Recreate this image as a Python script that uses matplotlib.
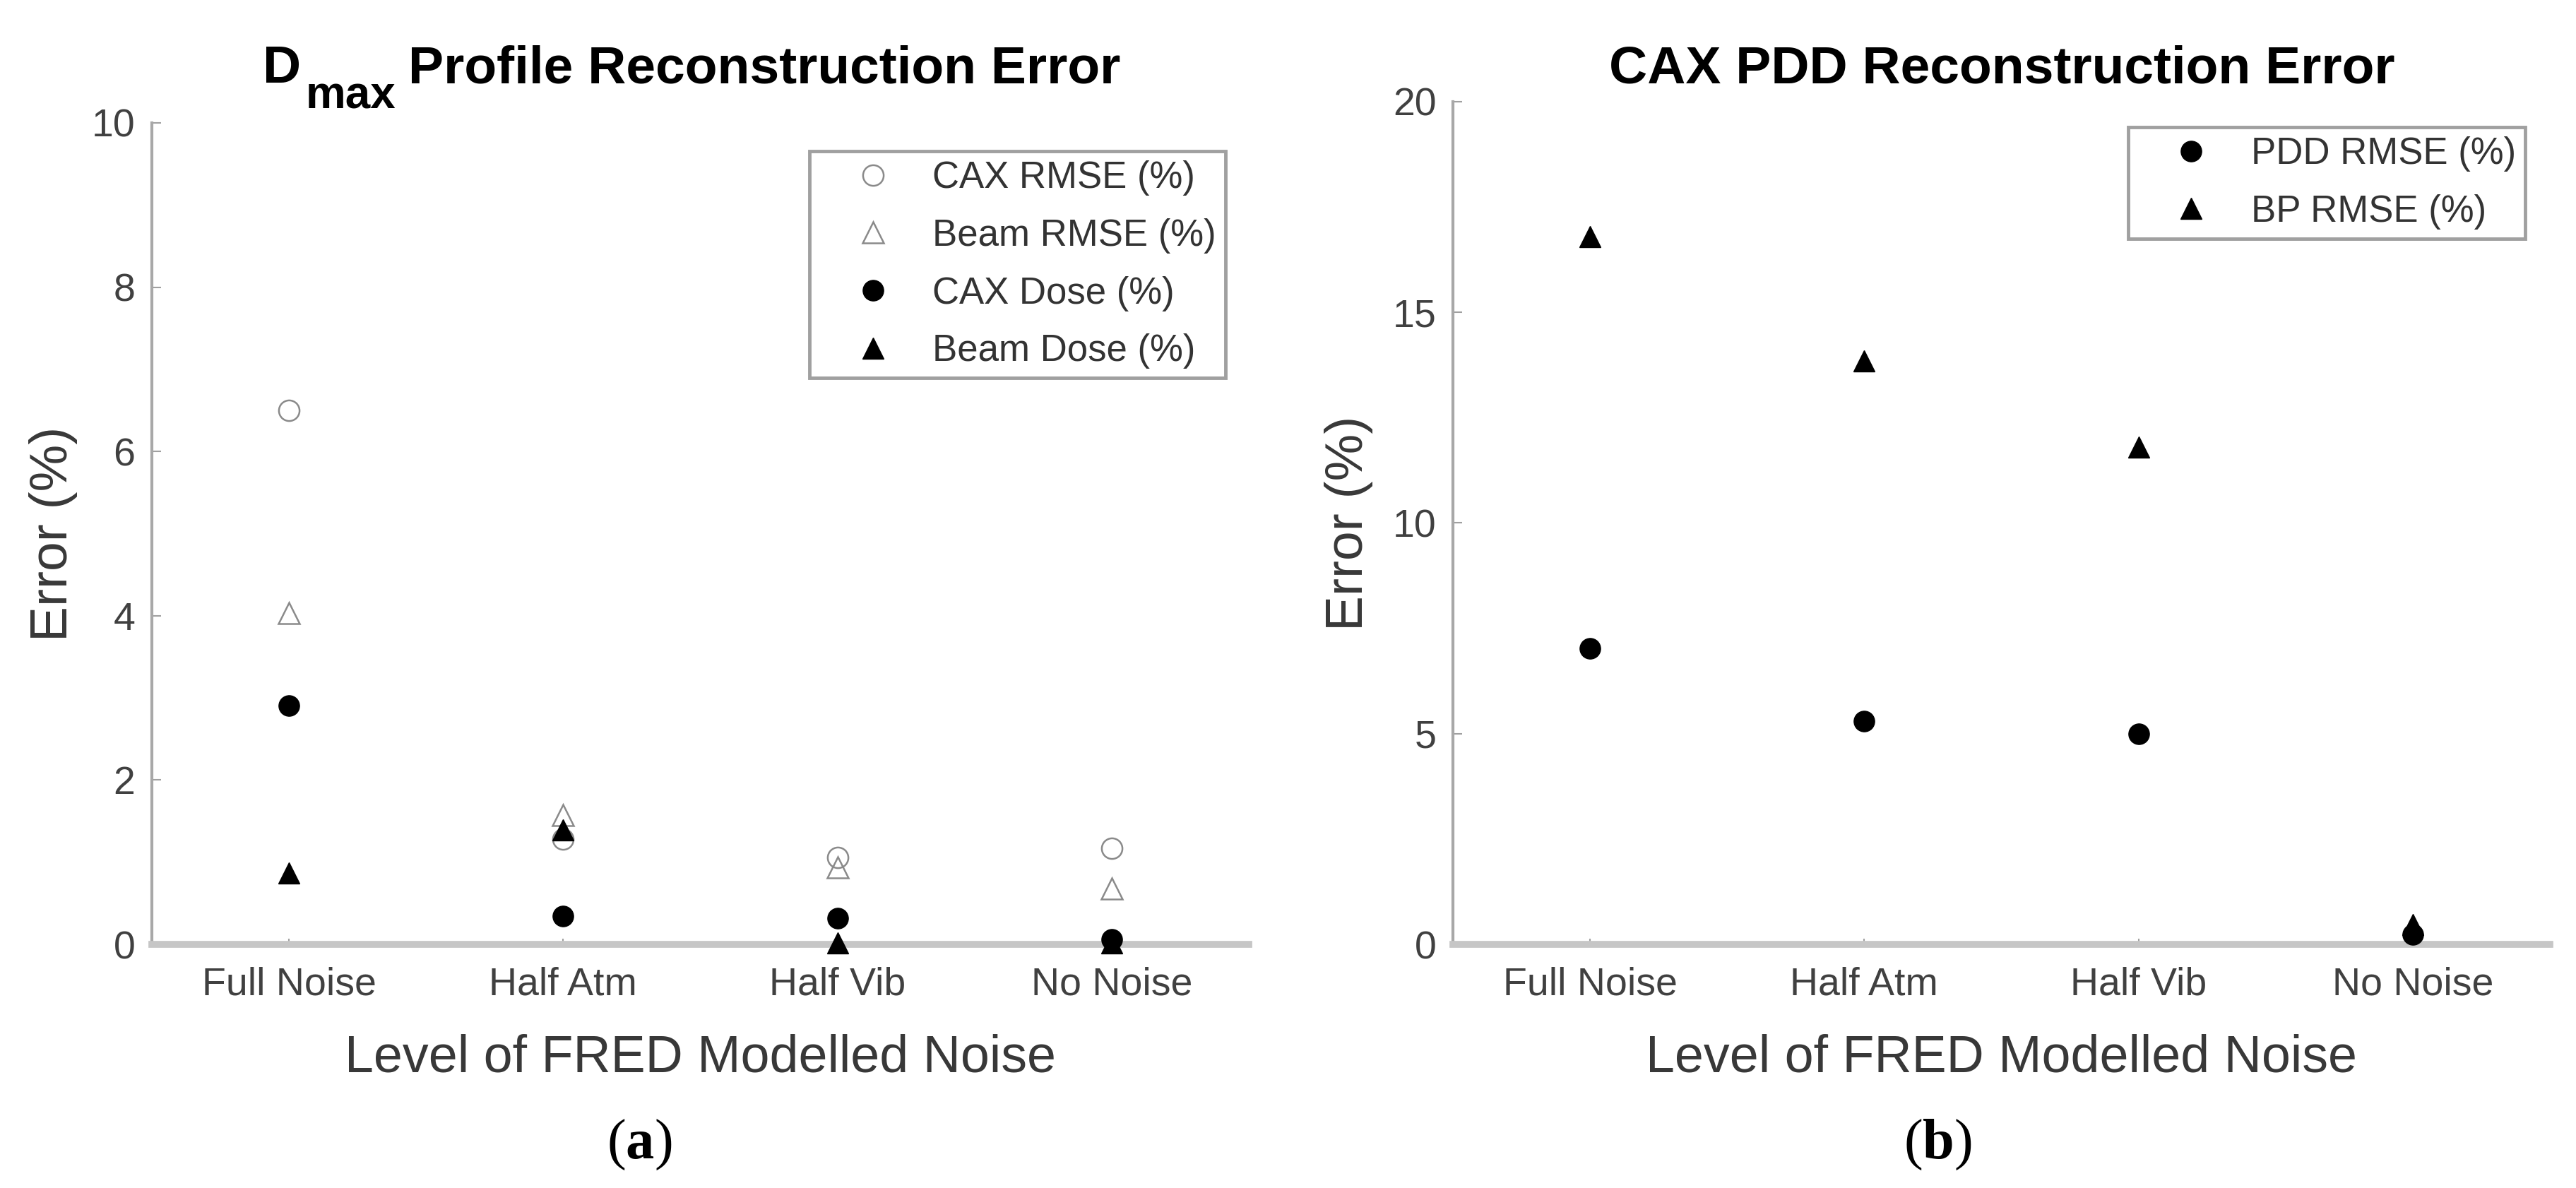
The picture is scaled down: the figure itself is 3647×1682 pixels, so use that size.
import matplotlib
matplotlib.use("Agg")
import matplotlib.pyplot as plt

plt.rcParams['font.family'] = ['Liberation Sans', 'DejaVu Sans']
plt.rcParams['mathtext.fontset'] = 'custom'
plt.rcParams['mathtext.rm'] = 'Liberation Serif'
plt.rcParams['mathtext.bf'] = 'Liberation Serif:bold'

# ---------------- data ----------------
categories = ["Full Noise", "Half Atm", "Half Vib", "No Noise"]

# panel (a): Dmax profile reconstruction error
cax_rmse = [6.5, 1.28, 1.06, 1.17]
beam_rmse = [4.03, 1.57, 0.94, 0.68]
cax_dose = [2.91, 0.34, 0.32, 0.06]
beam_dose = [0.87, 1.39, 0.02, 0.02]

# panel (b): CAX PDD reconstruction error
pdd_rmse = [7.02, 5.3, 4.99, 0.24]
bp_rmse = [16.8, 13.84, 11.81, 0.47]

yticks_a = [0, 2, 4, 6, 8, 10]
yticks_b = [0, 5, 10, 15, 20]

W, H = 3648, 1682
fig = plt.figure(figsize=(W / 100, H / 100), dpi=100)

TICK_COLOR = '#404040'
LABEL_COLOR = '#383838'
TICK_FS = 40
XLABEL_FS = 53
YLABEL_FS = 54
LEG_FS = 38
MS = 21

def frac_x(px):
    return px / W

def frac_y(py):
    return 1 - py / H

ax1 = fig.add_axes([frac_x(215), frac_y(1337), (1768 - 215) / W, (1337 - 174) / H])
ax2 = fig.add_axes([frac_x(2057), frac_y(1337), (3610 - 2057) / W, (1337 - 144) / H])

x = list(range(1, len(categories) + 1))

open_kw = dict(linestyle='none', markersize=MS, markerfacecolor='none',
               markeredgecolor='#8a8a8a', markeredgewidth=1.8, clip_on=False, zorder=3)
fill_kw = dict(linestyle='none', markersize=MS, color='black', clip_on=False, zorder=3)

ax1.plot(x, cax_rmse, marker='o', label='CAX RMSE (%)', **open_kw)
ax1.plot(x, beam_rmse, marker='^', label='Beam RMSE (%)', **open_kw)
ax1.plot(x, cax_dose, marker='o', label='CAX Dose (%)', **fill_kw)
ax1.plot(x, beam_dose, marker='^', label='Beam Dose (%)', **fill_kw)

ax2.plot(x, pdd_rmse, marker='o', label='PDD RMSE (%)', **fill_kw)
ax2.plot(x, bp_rmse, marker='^', label='BP RMSE (%)', **fill_kw)

for ax, yt, in ((ax1, yticks_a), (ax2, yticks_b)):
    ax.set_xlim(0.5, 4.5)
    ax.set_ylim(yt[0], yt[-1])
    ax.set_yticks(yt)
    ax.set_xticks(x)
    ax.set_xticklabels(categories)
    for s in ('top', 'right'):
        ax.spines[s].set_visible(False)
    ax.spines['left'].set_color('#a8a8a8')
    ax.spines['left'].set_linewidth(3.0)
    ax.spines['bottom'].set_color('#c6c6c6')
    ax.spines['bottom'].set_linewidth(7)
    ax.tick_params(axis='x', direction='in', length=6, width=1.5, color='#a0a0a0',
                   labelsize=TICK_FS, labelcolor=TICK_COLOR, pad=23)
    ax.tick_params(axis='y', direction='in', length=9, width=1.5, color='#a0a0a0',
                   labelsize=TICK_FS, labelcolor=TICK_COLOR, pad=17)
    ax.set_xlabel('Level of FRED Modelled Noise', fontsize=XLABEL_FS, color=LABEL_COLOR)
    ax.xaxis.label.set_verticalalignment('baseline')
    ax.set_ylabel('Error (%)', fontsize=YLABEL_FS, color=LABEL_COLOR)
    ax.yaxis.label.set_verticalalignment('center')
    ax.set_facecolor('white')

ax1.xaxis.set_label_coords(0.5, (1337 - 1517) / (1337 - 174))
ax2.xaxis.set_label_coords(0.5, (1337 - 1517) / (1337 - 144))
ax1.yaxis.set_label_coords((75 - 215) / 1553, 0.5)
ax2.yaxis.set_label_coords((1910 - 2057) / 1553, 0.5)

leg_kw = dict(loc='upper right', bbox_transform=fig.transFigure, borderaxespad=0,
              fontsize=LEG_FS, numpoints=1, handlelength=2.9, handletextpad=0.15,
              borderpad=0.25, labelspacing=0.6, fancybox=False, framealpha=1,
              edgecolor='#a0a0a0', labelcolor='#333333')
leg1 = ax1.legend(bbox_to_anchor=(frac_x(1735), frac_y(214)), **leg_kw)
leg2 = ax2.legend(bbox_to_anchor=(frac_x(3575), frac_y(180)), **leg_kw)
for lg in (leg1, leg2):
    lg.get_frame().set_linewidth(3.5)

# titles
TITLE_FS = 54
fig.text(frac_x(372), frac_y(117), 'D', fontsize=TITLE_FS, fontweight='bold',
         ha='left', va='baseline')
fig.text(frac_x(433), frac_y(153), 'max', fontsize=TITLE_FS * 0.85, fontweight='bold',
         ha='left', va='baseline')
fig.text(frac_x(578), frac_y(117), 'Profile Reconstruction Error', fontsize=TITLE_FS,
         fontweight='bold', ha='left', va='baseline')
fig.text(frac_x(2834), frac_y(117), 'CAX PDD Reconstruction Error', fontsize=TITLE_FS,
         fontweight='bold', ha='center', va='baseline')

# sub-figure labels
fig.text(frac_x(905), frac_y(1621), r'($\mathbf{a}$)', fontsize=58,
         family='Liberation Serif', ha='center', va='center')
fig.text(frac_x(2743), frac_y(1621), r'($\mathbf{b}$)', fontsize=58,
         family='Liberation Serif', ha='center', va='center')

fig.savefig('out.png', dpi=100, facecolor='white')
